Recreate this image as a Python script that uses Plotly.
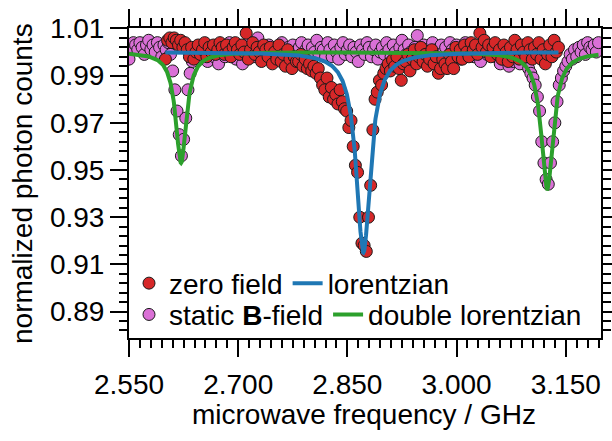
import numpy as np
import plotly.graph_objects as go

# ---- frequency sweeps (GHz) ----
zero_f_start, zero_f_stop = 2.600, 3.140
bfield_f_start, bfield_f_stop = 2.550, 3.195

# ---- normalized photon counts, zero field ----
zero_field_counts = [
    0.997, 1.005, 1.006, 1.004, 1.006, 1.005, 1.003, 1.005, 1.002, 1.004,
    1.001, 0.998, 1.002, 0.997, 1.000, 1.003, 0.999, 1.001, 1.004, 0.998,
    1.002, 1.000, 1.003, 0.999, 1.001, 1.004, 1.002, 0.999, 1.003, 1.000,
    0.998, 1.002, 1.004, 1.001, 0.999, 1.003, 1.000, 1.008, 0.997, 1.001,
    1.004, 0.999, 1.002, 1.000, 0.996, 1.003, 1.001, 0.998, 1.002, 0.995,
    1.000, 0.997, 1.003, 0.996, 0.999, 0.994, 1.001, 0.997, 0.993, 0.998,
    0.996, 0.996, 0.999, 0.994, 0.997, 0.993, 0.995, 0.992, 0.994, 0.991,
    0.993, 0.989, 0.986, 0.984, 0.989, 0.981, 0.985, 0.980, 0.982, 0.978,
    0.984, 0.979, 0.976, 0.975, 0.968, 0.971, 0.960, 0.952, 0.949, 0.930,
    0.919, 0.918, 0.9155, 0.930, 0.9435, 0.967, 0.980, 0.983, 0.988, 0.986,
    0.991, 0.993, 0.995, 0.992, 0.9966, 0.994, 0.998, 0.993, 0.988, 0.995,
    0.996, 0.999, 0.992, 0.997, 1.001, 0.995, 0.998, 1.002, 0.996, 0.999,
    0.994, 0.997, 1.001, 0.995, 0.998, 0.991, 0.993, 0.997, 0.995, 0.993,
    0.999, 0.996, 0.993, 1.002, 0.998, 1.001, 0.997, 1.003, 1.000, 0.998,
    1.004, 1.001, 1.003, 0.999, 1.008, 1.002, 1.005, 1.000, 1.003, 0.998,
    1.002, 1.004, 0.999, 1.001, 0.997, 1.003, 1.000, 0.996, 1.002, 0.998,
    1.005, 1.001, 0.997, 1.003, 1.000, 0.998, 1.004, 1.001, 0.997, 1.002,
    0.999, 1.004, 0.997, 1.001, 0.995, 0.999, 1.003, 0.998, 1.005, 1.000,
    1.002,
]

# ---- normalized photon counts, static B-field ----
bfield_counts = [
    0.997, 1.002, 1.004, 1.003, 1.001, 1.004, 1.002, 0.999, 1.003, 1.005,
    1.001, 1.003, 1.000, 1.004, 1.002, 0.998, 1.003, 1.001, 1.004, 0.999,
    0.992, 0.984, 0.975, 0.965, 0.956, 0.963, 0.972, 0.984, 0.991,
    0.996, 0.999, 1.001, 0.997, 1.002, 0.999, 1.003, 0.996, 1.000, 1.002,
    0.998, 1.001, 0.995, 1.003, 1.000, 0.998, 1.002, 1.004, 0.999, 1.001,
    0.997, 1.003, 1.000, 0.995, 1.002, 0.999, 1.004, 1.001, 0.998, 1.003,
    1.006, 1.000, 0.997, 1.002, 0.999, 1.003, 1.001, 0.996, 1.000, 1.002,
    0.998, 1.004, 1.001, 0.999, 1.002, 0.997, 1.003, 1.000, 0.998, 1.002,
    1.004, 0.999, 1.001, 1.003, 0.998, 1.002, 1.000, 1.005, 0.999, 1.002,
    1.001, 0.998,
    1.004, 1.001, 0.998, 1.003, 1.000, 0.997, 1.002, 1.004, 0.999, 1.001,
    1.003, 0.998, 1.002, 1.000, 0.996, 1.003, 1.001, 0.999, 1.004, 1.002,
    0.998, 1.001, 1.003, 0.997, 1.000, 1.002, 0.999, 1.004, 1.001, 0.998,
    1.003, 1.000, 0.996, 1.002, 1.005, 1.001, 0.999, 1.003, 1.000, 0.997,
    1.002, 1.007, 1.000, 0.998, 1.003, 1.001, 0.999, 1.002, 1.004, 0.996,
    1.001, 0.999, 1.003, 1.000, 1.002, 0.998, 1.004, 1.001, 0.999, 1.003,
    1.000, 0.997, 1.002, 1.004, 0.999, 1.001, 1.003, 0.998, 1.002, 1.000,
    0.996, 1.003, 1.001, 0.999, 1.002,
    1.000, 1.003, 0.998, 1.001, 0.995, 0.997, 1.002, 0.999, 0.994, 1.000,
    0.996, 1.002, 0.998, 0.995, 1.001, 0.997, 0.999, 0.993,
    0.991, 0.989, 0.986, 0.981, 0.975, 0.962, 0.953, 0.946, 0.944, 0.953,
    0.962, 0.970, 0.979, 0.986, 0.989, 0.992,
    0.994, 0.996, 0.999, 0.997, 1.001, 0.998, 1.002, 1.000, 1.003, 0.999,
    1.004, 1.002, 1.001, 1.003, 1.000, 1.004,
]

# ---- fit parameters ----
lor_base, lor_center, lor_fwhm, lor_depth = 1.000, 2.872, 0.0235, 0.085
dbl_base = 1.000
dbl_centers = [2.6215, 3.1245]
dbl_fwhm = [0.018, 0.020]
dbl_depths = [0.047, 0.058]

# axis limits and ticks
x_range = [2.55, 3.1984]
y_range = [0.8788, 1.0102]
x_tick0, x_dtick, x_minor = 2.55, 0.15, 0.015
y_tick0, y_dtick, y_minor = 0.89, 0.02, 0.004

zero_f = np.linspace(zero_f_start, zero_f_stop, len(zero_field_counts))
bfield_f = np.linspace(bfield_f_start, bfield_f_stop, len(bfield_counts))


def lorentz_dip(f, center, fwhm, depth):
    return depth / (1.0 + (2.0 * (f - center) / fwhm) ** 2)


f_lor = np.linspace(zero_f_start, zero_f_stop, 1200)
y_lor = lor_base - lorentz_dip(f_lor, lor_center, lor_fwhm, lor_depth)

f_dbl = np.linspace(bfield_f_start, bfield_f_stop, 1400)
y_dbl = dbl_base - sum(
    lorentz_dip(f_dbl, c, w, d) for c, w, d in zip(dbl_centers, dbl_fwhm, dbl_depths)
)

RED = "#d62728"
VIOLET = "#da70d6"
BLUE = "#1f77b4"
GREEN = "#2ca02c"
FONT = "Liberation Sans, Arial, sans-serif"

fig = go.Figure()
fig.add_trace(go.Scatter(
    x=bfield_f, y=bfield_counts, mode="markers", name="static <b>B</b>-field",
    marker=dict(size=12, color=VIOLET, line=dict(color="#1a1a1a", width=1)),
    legend="legend2",
))
fig.add_trace(go.Scatter(
    x=zero_f, y=zero_field_counts, mode="markers", name="zero field",
    marker=dict(size=12, color=RED, line=dict(color="#1a1a1a", width=1)),
    legend="legend",
))
fig.add_trace(go.Scatter(
    x=f_dbl, y=y_dbl, mode="lines", name="double lorentzian",
    line=dict(color=GREEN, width=4), legend="legend2",
))
# the single-lorentzian fit sits on the top/right frame axes (same ranges)
fig.add_trace(go.Scatter(
    x=f_lor, y=y_lor, mode="lines", name="lorentzian",
    line=dict(color=BLUE, width=4), legend="legend",
    xaxis="x2", yaxis="y2",
))

tick_style = dict(
    ticks="outside", ticklen=17, tickwidth=2, tickcolor="black",
    showline=True, linewidth=2, linecolor="black",
    showgrid=False, zeroline=False,
    tickfont=dict(family=FONT, size=28, color="black"),
)
x_ticks = dict(
    range=x_range, tick0=x_tick0, dtick=x_dtick, tickformat=".3f",
    minor=dict(tick0=x_tick0, dtick=x_minor, ticks="outside", ticklen=8,
               tickwidth=2, tickcolor="black", showgrid=False),
)
y_ticks = dict(
    range=y_range, tick0=y_tick0, dtick=y_dtick, tickformat=".2f",
    minor=dict(tick0=y_tick0, dtick=y_minor, ticks="outside", ticklen=8,
               tickwidth=2, tickcolor="black", showgrid=False),
)

legend_common = dict(
    orientation="h", xanchor="left", yanchor="middle",
    bgcolor="rgba(0,0,0,0)", borderwidth=0,
    font=dict(family=FONT, size=28, color="black"),
    traceorder="normal", itemwidth=30,
)
fig.update_layout(
    width=612, height=441,
    margin=dict(l=129, r=11, t=28, b=103, autoexpand=False),
    plot_bgcolor="white", paper_bgcolor="white",
    showlegend=True,
    xaxis=dict(ticklabelstandoff=3, **x_ticks, **tick_style),
    yaxis=dict(**y_ticks, **tick_style),
    # top and right frame axes carry the same outward ticks, no labels
    xaxis2=dict(overlaying="x", side="top", anchor="y2", showticklabels=False,
                **x_ticks, **tick_style),
    yaxis2=dict(overlaying="y", side="right", anchor="x2", showticklabels=False,
                **y_ticks, **tick_style),
    legend=dict(x=0.0, y=0.176, **legend_common),
    legend2=dict(x=0.0, y=0.075, **legend_common),
    annotations=[
        dict(text="microwave frequency / GHz", xref="paper", yref="paper",
             x=0.497, y=-0.248, xanchor="center", yanchor="middle",
             showarrow=False, font=dict(family=FONT, size=28, color="black")),
        dict(text="normalized photon counts", xref="paper", yref="paper",
             x=-0.2267, y=0.5, xanchor="center", yanchor="middle",
             textangle=-90, showarrow=False,
             font=dict(family=FONT, size=28, color="black")),
    ],
)

fig.write_html("out.html")
